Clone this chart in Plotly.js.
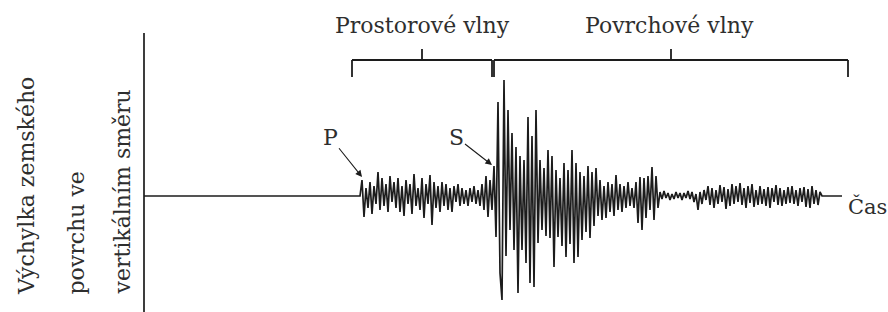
<!DOCTYPE html>
<html>
<head>
<meta charset="utf-8">
<script src="https://cdn.plot.ly/plotly-3.0.1.min.js"></script>
<style>html,body{margin:0;padding:0;background:#fff;}#chart{width:888px;height:312px;}</style>
</head>
<body>
<div id="chart"></div>
<script>
// Seismogram: vertical ground displacement (arbitrary units) vs time (arbitrary units)
const TRACE_START = 144;   // time where the record starts
const P_ARRIVAL = 360;     // first sample of the recorded signal
const SAMPLE_STEP = 2;     // time between samples
const TRACE_END = 842;     // end of the record

// P (body) wave part
const pWave = [
  0, 16, -21, 8, -12, 14, -18, 10, -8, 24, -14, 18, -10, 12, -16, 20, -6, 14, -12, 18,
  -16, 10, -20, 16, -8, 12, -18, 22, -10, 8, -14, 18, -22, 12, -8, 21, -29, 14, -12, 10,
  -16, 14, -10, 12, -14, 8, -16, 10, -6, 12, -10, 8, -8, 6, -10, 8, -6, 10, -8, 6,
  -10, 12, -14, 20, -21
];
// S wave onset and surface waves
const sWave = [
  16, -14, 30, -41, 94,
  -77, -104, 116, -60, 86, -34, 63, -54, 49, -97,
  40, -54, 36, -67, 79, -87, 60, -91, 86, -47,
  36, -34, 28, -40, 46, -42, 40, -71, 26, -41,
  18, -50, 33, -61, 26, -48, 46, -67, 33, -61,
  24, -44, 20, -36, 30, -42, 24, -30, 28, -20,
  16, -24, 10, -22, 14, -16, 12, -20, 21, -14,
  12, -16, 10, -12, 14, -10, 8, -12, 14, -27,
  19, -34, 18, -22, 20, -14, 29, -24, 20, -12
];
// late coda
const coda = [
  4, -3, 5, -2, 3, -4, 2, -3, 4, -2, 3, -4, 3, -2, 5, -3, 4, -6, 2, -14,
  4, -8, 6, -4, 10, -9, 8, -12, 6, -8, 11, -6, 9, -13, 7, -10, 12, -8, 10, -6,
  13, -9, 8, -12, 10, -7, 12, -11, 6, -9, 10, -8, 7, -10, 9, -12, 8, -6, 11, -9,
  8, -10, 6, -8, 9, -7, 10, -8, 6, -10, 8, -6, 9, -11, 7, -12, 10, -8, 6, -9, 4, 0
];

const signal = pWave.concat(sWave, coda);
const sampleTimes = signal.map((_, i) => P_ARRIVAL + i * SAMPLE_STEP);
const xs = [TRACE_START].concat(sampleTimes, [TRACE_END]);
const ys = [0].concat(signal, [0]);

// bracket extents (time)
const bodyRange = [352, 492];
const surfRange = [494, 848];

const FONT = "DejaVu Serif, Liberation Serif, serif";
const ink = "#1c1c1c";
const textInk = "#2e2e2e";

// layout helpers: pixel-like axes
const X_RANGE = [0, 888];
const Y_RANGE = [-116, 196];
const BR_Y = 136, BR_END = 119, BR_TICK = 147;

function bracket(r) {
  const mid = (r[0] + r[1]) / 2;
  return [
    {type:'line', x0:r[0], x1:r[1], y0:BR_Y, y1:BR_Y, line:{color:ink, width:1.8}},
    {type:'line', x0:r[0], x1:r[0], y0:BR_Y, y1:BR_END, line:{color:ink, width:1.8}},
    {type:'line', x0:r[1], x1:r[1], y0:BR_Y, y1:BR_END, line:{color:ink, width:1.8}},
    {type:'line', x0:mid, x1:mid, y0:BR_Y, y1:BR_TICK, line:{color:ink, width:1.8}}
  ];
}

const shapes = [
  {type:'line', x0:TRACE_START, x1:TRACE_START, y0:-116, y1:163, line:{color:ink, width:1.7}}
].concat(bracket(bodyRange), bracket(surfRange));

const annotations = [
  {x:(bodyRange[0]+bodyRange[1])/2, y:171, text:'Prostorové vlny', showarrow:false, font:{family:FONT,size:22,color:textInk}},
  {x:(surfRange[0]+surfRange[1])/2 - 2, y:171, text:'Povrchové vlny', showarrow:false, font:{family:FONT,size:22,color:textInk}},
  {x:362, y:19, ax:-32, ay:-40, text:'P', showarrow:true, arrowhead:2, arrowsize:1.2, arrowwidth:1.1, arrowcolor:ink, standoff:0, font:{family:FONT,size:22,color:textInk}},
  {x:492, y:31, ax:-36, ay:-28, text:'S', showarrow:true, arrowhead:2, arrowsize:1.2, arrowwidth:1.1, arrowcolor:ink, standoff:0, font:{family:FONT,size:22,color:textInk}},
  {x:888, y:-10, xanchor:'right', borderpad:0, text:'Čas', showarrow:false, font:{family:FONT,size:21,color:textInk}},
  {x:26, y:-101, xanchor:'center', yanchor:'bottom', textangle:-90, text:'Výchylka zemského', showarrow:false, font:{family:FONT,size:22,color:textInk}},
  {x:76, y:-101, xanchor:'center', yanchor:'bottom', textangle:-90, text:'povrchu ve', showarrow:false, font:{family:FONT,size:22,color:textInk}},
  {x:122, y:-101, xanchor:'center', yanchor:'bottom', textangle:-90, text:'vertikálním směru', showarrow:false, font:{family:FONT,size:22,color:textInk}}
];

const data = [{
  type:'scatter', mode:'lines', x:xs, y:ys,
  line:{color:ink, width:1.7}, hoverinfo:'skip'
}];

const layout = {
  width:888, height:312,
  margin:{l:0,r:0,t:0,b:0},
  paper_bgcolor:'#fff', plot_bgcolor:'#fff',
  showlegend:false,
  xaxis:{range:X_RANGE, visible:false, fixedrange:true},
  yaxis:{range:Y_RANGE, visible:false, fixedrange:true},
  shapes:shapes,
  annotations:annotations
};

Plotly.newPlot('chart', data, layout, {displayModeBar:false, staticPlot:true});
</script>
</body>
</html>
